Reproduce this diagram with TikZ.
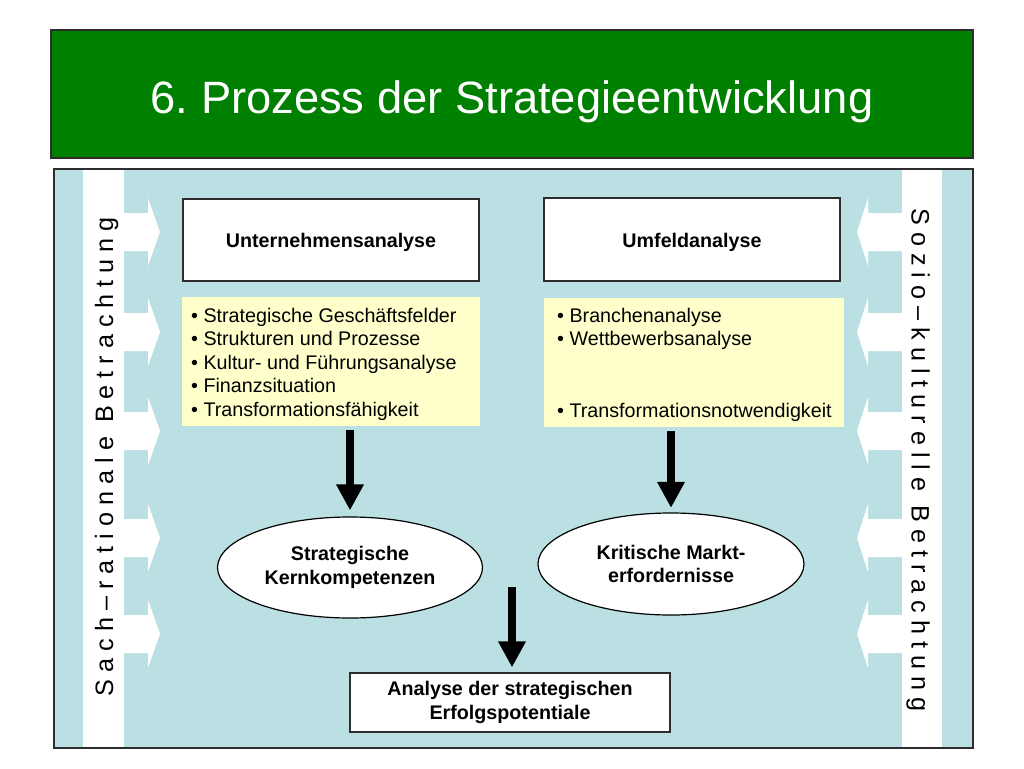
\documentclass[tikz,border=0pt]{standalone}
\usepackage{fontspec}
\setmainfont{Liberation Sans}
\usetikzlibrary{shapes.geometric,arrows.meta}
\definecolor{titlegreen}{RGB}{0,128,0}
\definecolor{panelblue}{RGB}{187,224,227}
\definecolor{softyellow}{RGB}{255,255,204}
\definecolor{framegray}{RGB}{45,45,45}
\frenchspacing
\tikzset{
  titlebox/.style={draw=framegray, line width=1.3pt, fill=titlegreen, text=white,
    minimum width=922pt, minimum height=128pt, inner sep=0pt,
    font=\fontsize{45.3}{54}\selectfont, text height=38pt, text depth=0pt},
  panelbox/.style={fill=panelblue, draw=none, minimum width=919pt, minimum height=579pt, inner sep=0pt},
  headbox/.style={draw=framegray, line width=1.2pt, fill=white, minimum width=296pt,
    minimum height=82pt, inner sep=0pt, font=\bfseries\fontsize{19.7}{23.6}\selectfont,
    text height=15pt, text depth=0pt},
  listbox/.style={fill=softyellow, draw=none, inner sep=0pt},
  listline/.style={anchor=base west, inner sep=0pt, font=\fontsize{19.7}{23.6}\selectfont},
  oval/.style={ellipse, draw=black, line width=1.2pt, fill=white, inner sep=0pt,
    align=center, font=\bfseries\fontsize{19.7}{23.6}\selectfont},
  resultbox/.style={draw=framegray, line width=1.2pt, fill=white, minimum width=320pt,
    minimum height=59pt, inner sep=0pt, align=center,
    font=\bfseries\fontsize{19.7}{23.6}\selectfont},
  bigarrow/.style={line width=8pt, draw=black, -{Triangle[width=26pt,length=26pt]}},
  sidearrow/.style={fill=white, draw=none},
  sidetext/.style={inner sep=0pt, font=\fontsize{25.2}{30}\selectfont}
}
\begin{document}
\begin{tikzpicture}[x=1pt,y=-1pt]
\useasboundingbox[fill=white] (0,0) rectangle (1024,768);

% title
\node[titlebox] (title) at (512,94) {6.\ Prozess der Strategieentwicklung};

% panel
\node[panelbox] (panel) at (513.5,458.5) {};
\fill[white] (83,169) rectangle (124,748);
\fill[white] (902,169) rectangle (942,748);
\foreach \c in {232,332,431,538,634}{
  \fill[sidearrow] (123,\c-19) -- (148,\c-19) -- (148,\c-34) -- (160,\c)
     -- (148,\c+34) -- (148,\c+19) -- (123,\c+19) -- cycle;
  \fill[sidearrow] (903,\c-19) -- (868,\c-19) -- (868,\c-34) -- (857,\c)
     -- (868,\c+34) -- (868,\c+19) -- (903,\c+19) -- cycle;
}
\draw[framegray, line width=1.5pt] (panel.north west) rectangle (panel.south east);

% side texts
\node[sidetext, rotate=90] (lefttext) at (106.5,456.5)
  {S a c h – r a t i o n a l e\ \ B e t r a c h t u n g};
\node[sidetext, rotate=-90] (righttext) at (918,460)
  {S o z i o – k u l t u r e l l e\ \ B e t r a c h t u n g};

% heading boxes
\node[headbox] (ua) at (331,240) {Unternehmensanalyse};
\node[headbox, minimum height=83pt] (uf) at (692,239.5) {Umfeldanalyse};

% list boxes
\node[listbox, minimum width=298pt, minimum height=129pt] (la) at (331,361.5) {};
\node[listbox, minimum width=300pt, minimum height=129pt] (ra) at (694,362.5) {};

\node[listline] (la1) at (191,322) {• Strategische Geschäftsfelder};
\node[listline] (la2) at (191,345.5) {• Strukturen und Prozesse};
\node[listline] (la3) at (191,369) {• Kultur- und Führungsanalyse};
\node[listline] (la4) at (191,392.5) {• Finanzsituation};
\node[listline] (la5) at (191,416) {• Transformationsfähigkeit};

\node[listline] (ra1) at (557,322) {• Branchenanalyse};
\node[listline] (ra2) at (557,345.5) {• Wettbewerbsanalyse};
\node[listline] (ra5) at (557,417) {• Transformationsnotwendigkeit};

% ellipses
\node[oval, minimum width=265pt, minimum height=101pt] (kk) at (350,567.5)
  {Strategische\\Kernkompetenzen};
\node[oval, minimum width=266pt, minimum height=102pt] (km) at (671,564)
  {Kritische Markt-\\erfordernisse};

% result box
\node[resultbox] (erg) at (510,702.5) {Analyse der strategischen\\Erfolgspotentiale};

% arrows
\draw[bigarrow, shorten <=4pt, shorten >=6pt] (la.south -| kk.north) -- (kk.north);
\draw[bigarrow, shorten <=4pt, shorten >=4.5pt] (ra.south -| km.north) -- (km.north);
\coordinate (mtop) at (512,587);
\draw[bigarrow, shorten >=5pt] (mtop) -- (mtop |- erg.north);
\end{tikzpicture}
\end{document}
